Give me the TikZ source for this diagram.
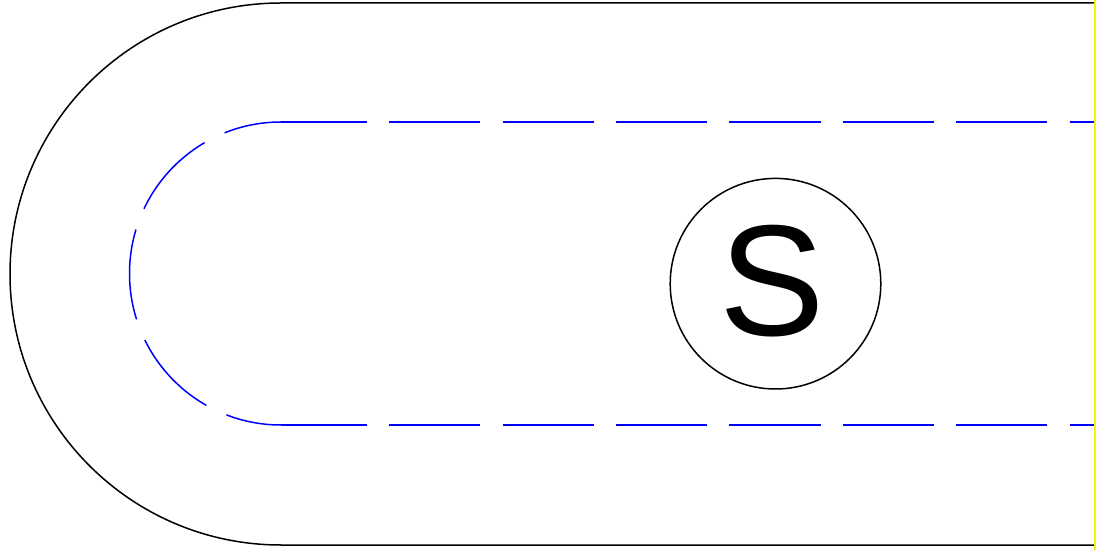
\documentclass[tikz,border=0pt]{standalone}
\usepackage{fontspec}
\setmainfont{Liberation Sans}
\usepackage{tikz}

\begin{document}
\begin{tikzpicture}[x=0.5pt,y=-0.5pt,line join=round]
  \tikzset{
    lane/.style={blue,line width=0.75pt,dash pattern=on 45.6pt off 11.1pt},
    edge/.style={black,line width=0.75pt}
  }
  \useasboundingbox (0,0) rectangle (1108,550);
  \coordinate (c) at (281,274);
  \coordinate (ot) at (281,3);
  \coordinate (ob) at (281,545);
  \coordinate (it) at (281,122);
  \coordinate (ib) at (281,425);
  \coordinate (ote) at (1094,3);
  \coordinate (obe) at (1094,545);
  \coordinate (ite) at (1094,122);
  \coordinate (ibe) at (1094,425);
  % outer border
  \draw[edge] (ote) -- (ot) arc (270:90:271) -- (obe);
  % dashed lane
  \draw[lane,dash phase=16.7pt] (it) arc (270:90:151.5);
  \draw[lane,dash phase=2.6pt] (it) -- (ite);
  \draw[lane,dash phase=2.6pt] (ib) -- (ibe);
  % start
  \node[circle,draw,line width=0.75pt,minimum size=105.3pt,inner sep=0pt] (s) at (775.5,283.7) {};
  \node[inner sep=0pt,font=\fontsize{79}{84}\selectfont] (sl) at (772.5,281) {S};
  % finish line
  \draw[yellow,line width=1.2pt] (1095,0) -- (1095,550);
\end{tikzpicture}
\end{document}
